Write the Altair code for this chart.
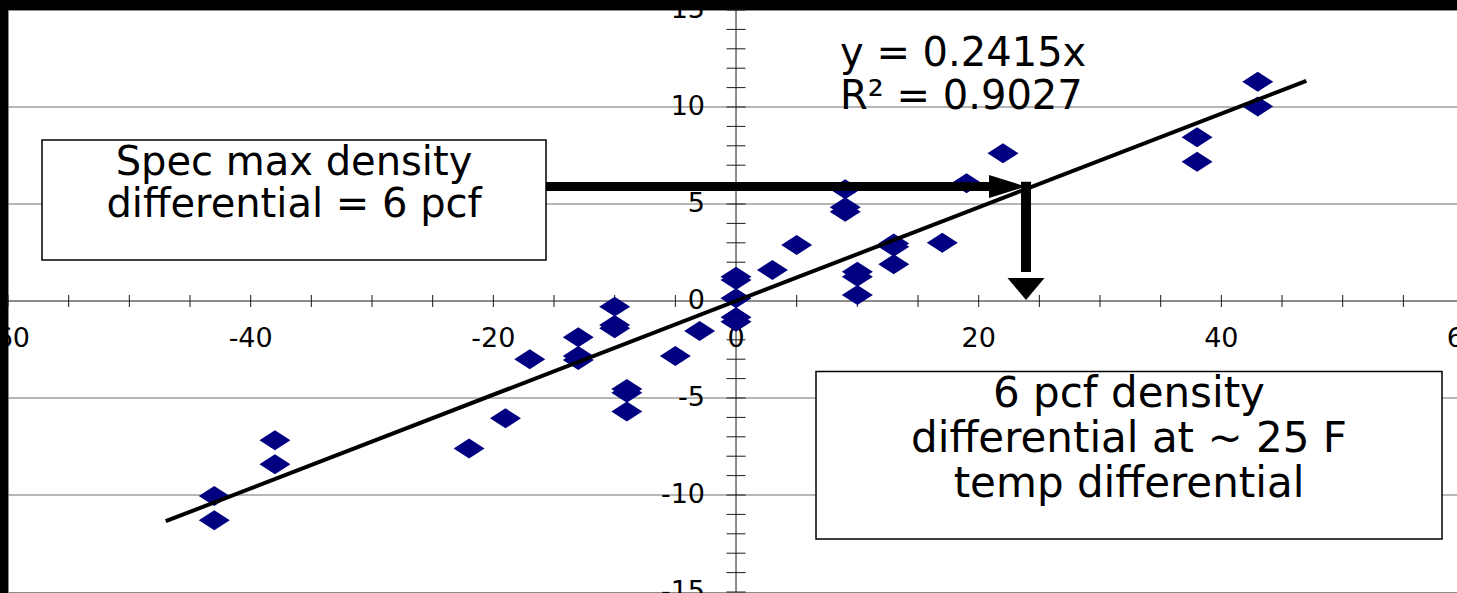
import altair as alt
import pandas as pd

# ---- data ----
temp_diff = [-43, -43, -38, -38, -22, -19, -17, -13, -13, -13, -10, -10, -10, -9, -9, -9, -5, -3,
             0, 0, 0, 0, 0, 3, 5, 9, 9, 9, 10, 10, 10, 13, 13, 13, 17, 19, 22, 38, 38, 43, 43]
dens_diff = [-10.05, -11.3, -7.18, -8.42, -7.6, -6.05, -3.0, -1.87, -2.84, -3.04, -0.29, -1.24, -1.41,
             -4.54, -4.73, -5.7, -2.84, -1.55, 1.25, 1.08, 0.14, -0.84, -1.07, 1.6, 2.89, 5.76, 4.83, 4.6,
             1.51, 1.25, 0.31, 2.97, 2.8, 1.89, 3.0, 6.07, 7.61, 8.44, 7.18, 11.3, 10.03]

trend_x = [-47, 47]
trend_y = [-11.35, 11.35]

x_label_vals = [-60, -40, -20, 0, 20, 40, 60]
y_label_vals = [-15, -10, -5, 0, 5, 10, 15]
grid_vals = [-10, -5, 5, 10]
x_tick_vals = [-60, -55, -50, -45, -40, -35, -30, -25, -20, -15, -10, -5, 0,
               5, 10, 15, 20, 25, 30, 35, 40, 45, 50, 55, 60]
y_tick_vals = list(range(-15, 16))

# annotation arrows (data coordinates)
h_arrow = {"x": -16, "x2": 21.5, "y": 5.9}
h_tip = {"x": 23.9, "y": 5.9}
v_arrow = {"x": 23.9, "y": 6.15, "y2": 1.5}
v_tip = {"x": 23.9, "y": 0.05}

eq_text = "y = 0.2415x\nR² = 0.9027"
box1_text = "Spec max density\ndifferential = 6 pcf"
box2_text = "6 pcf density\ndifferential at ~ 25 F\ntemp differential"

FONT = "DejaVu Sans"
W, H = 1449, 582
xs = alt.Scale(domain=[-60, 59.42], nice=False, zero=False)
ys = alt.Scale(domain=[-15, 15], nice=False, zero=False)


def X(field=None, **kw):
    if field is None:
        return alt.X(scale=xs, axis=None, type="quantitative", **kw)
    return alt.X(field, type="quantitative", scale=xs, axis=None)


def Y(field=None, **kw):
    if field is None:
        return alt.Y(scale=ys, axis=None, type="quantitative", **kw)
    return alt.Y(field, type="quantitative", scale=ys, axis=None)


one = pd.DataFrame({"k": [0]})

grid = alt.Chart(pd.DataFrame({"v": grid_vals})).mark_rule(
    color="#6e6e6e", strokeWidth=1).encode(y=Y("v"))

x_axis = alt.Chart(one).mark_rule(color="#1a1a1a", strokeWidth=1).encode(y=Y(datum=0))
y_axis = alt.Chart(one).mark_rule(color="#1a1a1a", strokeWidth=1).encode(x=X(datum=0))

x_ticks = alt.Chart(pd.DataFrame({"v": x_tick_vals})).mark_tick(
    orient="vertical", size=12, thickness=1, color="#1a1a1a", opacity=1
).encode(x=X("v"), y=Y(datum=0))

y_ticks = alt.Chart(pd.DataFrame({"v": y_tick_vals})).mark_tick(
    orient="horizontal", size=19, thickness=1, color="#1a1a1a", opacity=1
).encode(y=Y("v"), x=X(datum=0))

x_labels = alt.Chart(pd.DataFrame({"v": x_label_vals, "t": [str(v) for v in x_label_vals]})).mark_text(
    font=FONT, fontSize=27, color="black", align="center", baseline="alphabetic", dy=46
).encode(x=X("v"), y=Y(datum=0), text="t:N")

y_labels = alt.Chart(pd.DataFrame({"v": y_label_vals, "t": [str(v) for v in y_label_vals]})).mark_text(
    font=FONT, fontSize=27, color="black", align="right", baseline="middle", dx=-31
).encode(y=Y("v"), x=X(datum=0), text="t:N")

points = alt.Chart(pd.DataFrame({"x": temp_diff, "y": dens_diff})).mark_point(
    shape="M-1,0L0,-0.645L1,0L0,0.645Z", size=961, filled=True, color="#000080", opacity=1
).encode(x=X("x"), y=Y("y"))

trend = alt.Chart(pd.DataFrame({"x": trend_x, "y": trend_y})).mark_line(
    color="black", strokeWidth=4
).encode(x=X("x"), y=Y("y"))

h_shaft = alt.Chart(pd.DataFrame([h_arrow])).mark_rule(color="black", strokeWidth=9).encode(
    x=X("x"), x2="x2:Q", y=Y("y"))
v_shaft = alt.Chart(pd.DataFrame([v_arrow])).mark_rule(color="black", strokeWidth=10).encode(
    x=X("x"), y=Y("y"), y2="y2:Q")

h_head = alt.Chart(pd.DataFrame([h_tip])).mark_point(
    shape="M0,0L-2,-0.62L-2,0.62Z", size=1369, filled=True, color="black", opacity=1
).encode(x=X("x"), y=Y("y"))
v_head = alt.Chart(pd.DataFrame([v_tip])).mark_point(
    shape="M0,0L-1,-1.19L1,-1.19Z", size=1369, filled=True, color="black", opacity=1
).encode(x=X("x"), y=Y("y"))

box1 = alt.Chart(one).mark_rect(fill="white", stroke="black", strokeWidth=1.5).encode(
    x=alt.value(34), x2=alt.value(538), y=alt.value(130), y2=alt.value(250))
box1_t = alt.Chart(one).mark_text(
    font=FONT, fontSize=40, color="black", align="center", baseline="alphabetic",
    lineBreak="\n", lineHeight=42
).encode(x=alt.value(286), y=alt.value(165), text=alt.value(box1_text))

box2 = alt.Chart(one).mark_rect(fill="white", stroke="black", strokeWidth=1.5).encode(
    x=alt.value(808), x2=alt.value(1434), y=alt.value(361.5), y2=alt.value(529))
box2_t = alt.Chart(one).mark_text(
    font=FONT, fontSize=42, color="black", align="center", baseline="alphabetic",
    lineBreak="\n", lineHeight=45
).encode(x=alt.value(1121), y=alt.value(396.7), text=alt.value(box2_text))

eq = alt.Chart(one).mark_text(
    font=FONT, fontSize=40, color="black", align="left", baseline="alphabetic",
    lineBreak="\n", lineHeight=43
).encode(x=alt.value(832), y=alt.value(56), text=alt.value(eq_text))

chart = alt.layer(
    grid, x_axis, y_axis, x_ticks, y_ticks, x_labels, y_labels,
    points, trend, h_shaft, v_shaft, h_head, v_head,
    box1, box1_t, box2, box2_t, eq
).properties(
    width=W, height=H,
    padding={"left": 8, "top": 10, "right": 0, "bottom": 1},
    autosize=alt.AutoSizeParams(type="none"),
    background="black",
).configure_view(fill="white", stroke="#8c8c8c", strokeWidth=1)

chart.save("out.html", embed_options={"renderer": "svg", "actions": False})
